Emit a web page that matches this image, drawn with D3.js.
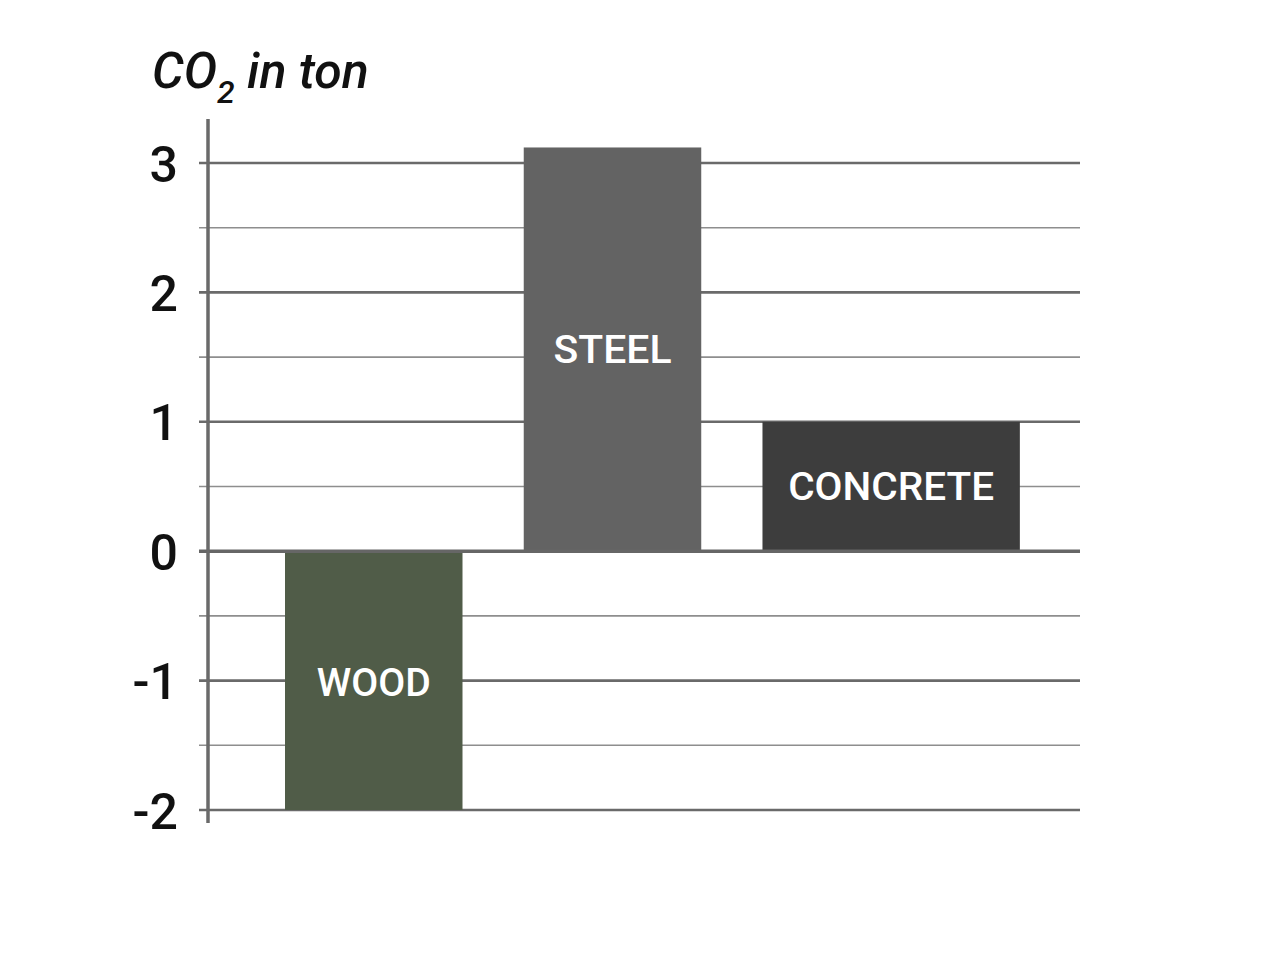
<!DOCTYPE html>
<html>
<head>
<meta charset="utf-8">
<script src="https://cdn.jsdelivr.net/npm/d3@7"></script>
<style>
  html, body { margin: 0; padding: 0; background: #fff; }
  svg { display: block; }
</style>
</head>
<body>
<svg id="chart" width="1278" height="957"></svg>
<script>
// ---- data ----
const categories = ["WOOD", "STEEL", "CONCRETE"];
const values = [-2, 3.12, 1.0];
const barColors = ["#505c48", "#636363", "#3d3d3d"];
const relWidths = [1, 1, 1.45];
const majorTicks = [-2, -1, 0, 1, 2, 3];
const minorTicks = [-1.5, -0.5, 0.5, 1.5, 2.5];
const tickLabels = ["-2", "-1", "0", "1", "2", "3"];

const svg = d3.select("#chart");

// ---- scales ----
const y = d3.scaleLinear().domain([-2, 3]).range([810, 163]);
const xUnit = d3.scaleLinear().domain([0, 1]).range([285, 462.5]);
const gapUnits = 0.345;
const plotLeft = 199, plotRight = 1080, axisX = 208;

// gridlines
svg.append("g").selectAll("line").data(minorTicks).join("line")
  .attr("x1", plotLeft).attr("x2", plotRight)
  .attr("y1", d => y(d)).attr("y2", d => y(d))
  .attr("stroke", "#8e8e8e").attr("stroke-width", 1.6);

svg.append("g").selectAll("line").data(majorTicks.filter(d => d !== 0)).join("line")
  .attr("x1", plotLeft).attr("x2", plotRight)
  .attr("y1", d => y(d)).attr("y2", d => y(d))
  .attr("stroke", "#6a6a6a").attr("stroke-width", 2.6);

// bars
let acc = 0;
const bars = categories.map((c, i) => {
  const start = acc;
  acc += relWidths[i] + gapUnits;
  return { cat: c, v: values[i], color: barColors[i], x0: xUnit(start), x1: xUnit(start + relWidths[i]) };
});

svg.append("g").selectAll("rect").data(bars).join("rect")
  .attr("x", d => d.x0)
  .attr("width", d => d.x1 - d.x0)
  .attr("y", d => y(Math.max(0, d.v)))
  .attr("height", d => Math.abs(y(d.v) - y(0)))
  .attr("fill", d => d.color);

// zero line
svg.append("line")
  .attr("x1", plotLeft).attr("x2", plotRight)
  .attr("y1", y(0)).attr("y2", y(0))
  .attr("stroke", "#666").attr("stroke-width", 3.5);

// y axis line
svg.append("line")
  .attr("x1", axisX).attr("x2", axisX)
  .attr("y1", y(3.34)).attr("y2", y(-2.1))
  .attr("stroke", "#6a6a6a").attr("stroke-width", 3.5);

// tick labels
svg.append("g").selectAll("text").data(majorTicks).join("text")
  .attr("x", 178)
  .attr("y", d => y(d))
  .attr("dy", "0.37em")
  .attr("text-anchor", "end")
  .attr("font-family", "Roboto, sans-serif")
  .attr("font-weight", 500)
  .attr("font-size", 50)
  .attr("fill", "#111")
  .text((d, i) => tickLabels[i]);

// bar labels
const labelWidths = { WOOD: 114, STEEL: 118, CONCRETE: 206 };
svg.append("g").selectAll("text").data(bars).join("text")
  .attr("x", d => (d.x0 + d.x1) / 2)
  .attr("y", d => (y(d.v) + y(0)) / 2 + (d.cat === "WOOD" ? 2 : 0))
  .attr("dy", "0.36em")
  .attr("text-anchor", "middle")
  .attr("font-family", "Roboto, sans-serif")
  .attr("font-weight", 500)
  .attr("font-size", 38)
  .attr("fill", "#fff")
  .attr("textLength", d => labelWidths[d.cat])
  .attr("lengthAdjust", "spacingAndGlyphs")
  .text(d => d.cat);

// title
const title = svg.append("text")
  .attr("x", 152).attr("y", 88)
  .attr("font-family", "Roboto, sans-serif")
  .attr("font-style", "italic")
  .attr("font-weight", 500)
  .attr("font-size", 50)
  .attr("fill", "#111");
title.append("tspan").text("CO");
title.append("tspan").attr("font-size", 32).attr("dy", 15).text("2");
title.append("tspan").attr("dy", -15).text(" in ton");
</script>
</body>
</html>
